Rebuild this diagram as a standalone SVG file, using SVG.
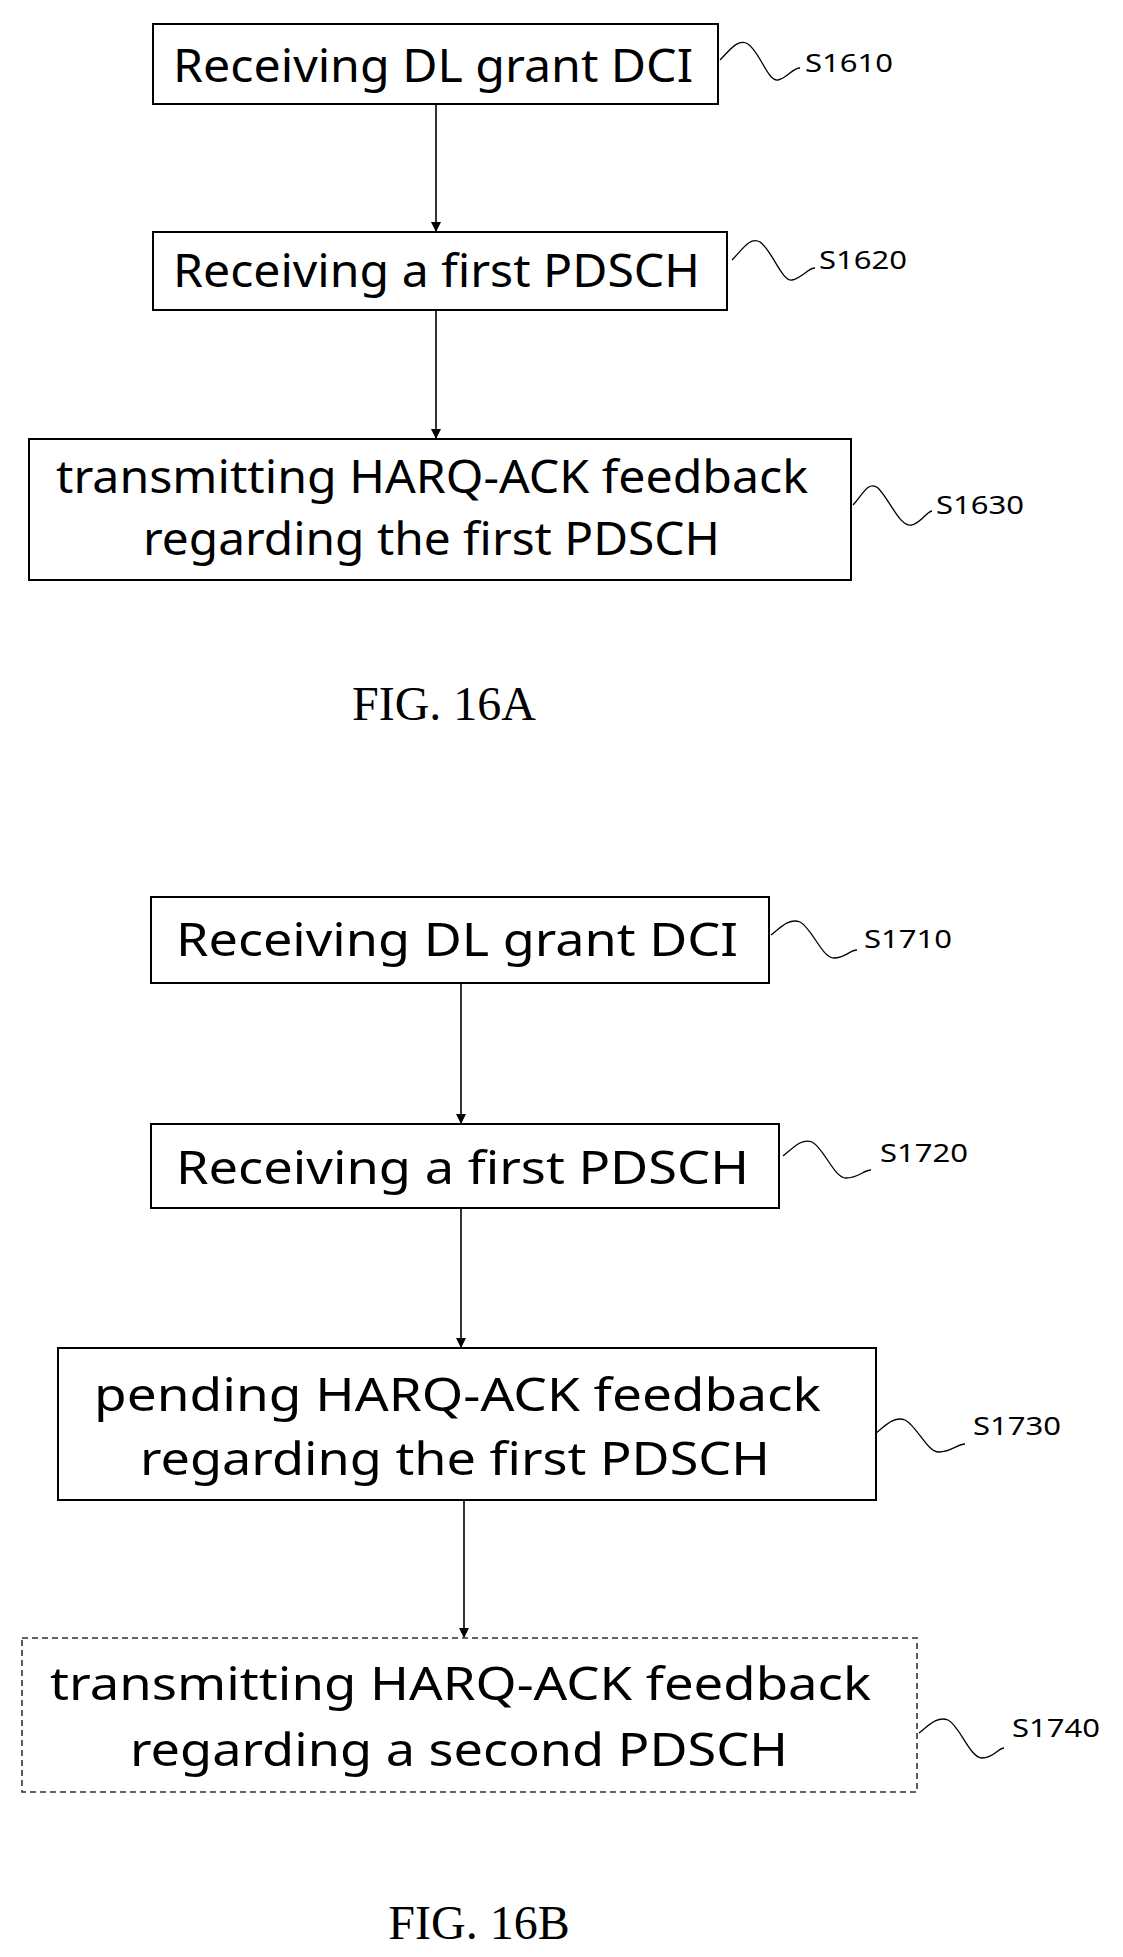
<svg xmlns="http://www.w3.org/2000/svg" width="1123" height="1957" viewBox="0 0 1123 1957">
<style>
.box{fill:#fff;stroke:#000;stroke-width:2}
.dash{fill:#fff;stroke:#333;stroke-width:1.6;stroke-dasharray:6,4}
.t{font-family:"Noto Sans","Open Sans",sans-serif;font-size:46px;fill:#000}
.lbl{font-family:"Noto Sans","Open Sans",sans-serif;font-size:26px;fill:#000}
.fig{font-family:"Liberation Serif",serif;font-size:48px;fill:#000;text-anchor:middle}
.sq{fill:none;stroke:#000;stroke-width:1.3}
.c{stroke:#000;stroke-width:1.6;fill:none;marker-end:url(#ah)}
</style>
<defs><marker id="ah" markerWidth="10" markerHeight="10" refX="9" refY="5" orient="auto" markerUnits="userSpaceOnUse"><path d="M0,0 L10,5 L0,10 Z" fill="#000"/></marker></defs>
<g id="connectors">
<line class="c" x1="436" y1="104" x2="436" y2="231"/>
<line class="c" x1="436" y1="310" x2="436" y2="438"/>
<line class="c" x1="461" y1="983" x2="461" y2="1123"/>
<line class="c" x1="461" y1="1208" x2="461" y2="1347"/>
<line class="c" x1="464" y1="1500" x2="464" y2="1637"/>
</g>
<g id="s1610"><rect class="box" x="153" y="24" width="565" height="80"/><text class="t" x="173" y="82" textLength="520" lengthAdjust="spacingAndGlyphs">Receiving DL grant DCI</text>
<path class="sq" d="M720,60 C730,50 738,38 748,44 C760,52 768,82 778,80 C788,78 792,68 800,68"/><text class="lbl" x="805" y="72" textLength="88" lengthAdjust="spacingAndGlyphs">S1610</text></g>
<g id="s1620"><rect class="box" x="153" y="232" width="574" height="78"/><text class="t" x="173" y="287" textLength="527" lengthAdjust="spacingAndGlyphs">Receiving a first PDSCH</text>
<path class="sq" d="M732,260 C742,250 750,236 760,242 C772,250 782,282 792,280 C802,278 808,268 815,268"/><text class="lbl" x="819" y="269" textLength="88" lengthAdjust="spacingAndGlyphs">S1620</text></g>
<g id="s1630"><rect class="box" x="29" y="439" width="822" height="141"/><text class="t" x="56" y="493" textLength="752" lengthAdjust="spacingAndGlyphs">transmitting HARQ-ACK feedback</text><text class="t" x="143" y="555" textLength="577" lengthAdjust="spacingAndGlyphs">regarding the first PDSCH</text>
<path class="sq" d="M853,505 C862,496 868,480 878,488 C890,500 900,528 912,525 C922,522 926,512 932,511"/><text class="lbl" x="936" y="514" textLength="88" lengthAdjust="spacingAndGlyphs">S1630</text></g>
<text class="fig" x="444" y="720">FIG. 16A</text>
<g id="s1710"><rect class="box" x="151" y="897" width="618" height="86"/><text class="t" x="176" y="956" textLength="562" lengthAdjust="spacingAndGlyphs">Receiving DL grant DCI</text>
<path class="sq" d="M771,935 C782,926 790,918 800,922 C812,928 822,958 834,958 C845,958 850,950 857,950"/><text class="lbl" x="864" y="948" textLength="88" lengthAdjust="spacingAndGlyphs">S1710</text></g>
<g id="s1720"><rect class="box" x="151" y="1124" width="628" height="84"/><text class="t" x="176" y="1184" textLength="573" lengthAdjust="spacingAndGlyphs">Receiving a first PDSCH</text>
<path class="sq" d="M783,1156 C794,1147 802,1138 812,1142 C824,1148 834,1178 846,1178 C858,1178 864,1170 871,1170"/><text class="lbl" x="880" y="1162" textLength="88" lengthAdjust="spacingAndGlyphs">S1720</text></g>
<g id="s1730"><rect class="box" x="58" y="1348" width="818" height="152"/><text class="t" x="94" y="1411" textLength="727" lengthAdjust="spacingAndGlyphs">pending HARQ-ACK feedback</text><text class="t" x="140" y="1475" textLength="630" lengthAdjust="spacingAndGlyphs">regarding the first PDSCH</text>
<path class="sq" d="M876,1433 C887,1424 895,1416 905,1420 C917,1426 927,1452 939,1452 C951,1452 958,1444 965,1444"/><text class="lbl" x="973" y="1435" textLength="88" lengthAdjust="spacingAndGlyphs">S1730</text></g>
<g id="s1740"><rect class="dash" x="22" y="1638" width="895" height="154"/><text class="t" x="50" y="1700" textLength="821" lengthAdjust="spacingAndGlyphs">transmitting HARQ-ACK feedback</text><text class="t" x="130" y="1766" textLength="658" lengthAdjust="spacingAndGlyphs">regarding a second PDSCH</text>
<path class="sq" d="M919,1733 C930,1724 938,1716 948,1720 C960,1726 970,1758 982,1758 C994,1758 998,1748 1004,1748"/><text class="lbl" x="1012" y="1737" textLength="88" lengthAdjust="spacingAndGlyphs">S1740</text></g>
<text class="fig" x="479" y="1939">FIG. 16B</text>
</svg>
